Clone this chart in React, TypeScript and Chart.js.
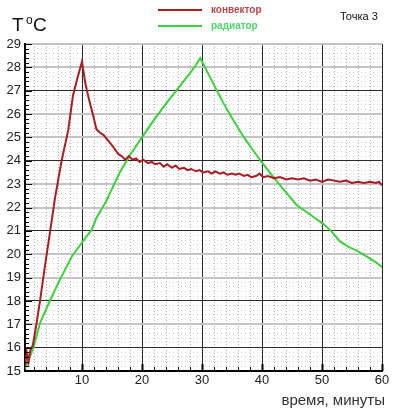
import React, { useEffect, useRef } from "react";
import { Chart, registerables } from "chart.js";
Chart.register(...registerables);

// ---- data ----
const convectorTime = [0.5, 0.8, 1.1, 1.4, 1.8, 2.4, 3.0, 3.8, 4.7, 5.5, 6.6, 7.7, 8.5, 9.2, 10.0, 10.5, 11.0, 11.9, 12.4, 13.0, 13.6, 14.4, 15.2, 16.0, 16.6, 17.2, 17.8, 18.4, 19.0, 19.6, 20.2, 21.0, 21.6, 22.2, 23.0, 23.6, 24.2, 25.0, 25.6, 26.2, 27.0, 27.6, 28.2, 29.0, 29.6, 30.2, 31.0, 31.6, 32.2, 33.0, 33.6, 34.2, 35.0, 35.6, 36.2, 37.0, 37.6, 38.2, 39.0, 39.6, 40.2, 41.0, 42.0, 43.0, 44.0, 45.0, 46.0, 47.0, 48.0, 49.0, 50.0, 51.0, 52.0, 53.0, 54.0, 55.0, 56.0, 57.0, 58.0, 59.0, 59.5, 60.0];
const convectorTemp = [15.2, 15.8, 15.4, 15.9, 16.1, 17.0, 18.0, 19.45, 21.0, 22.4, 24.0, 25.3, 26.8, 27.5, 28.25, 27.4, 26.8, 25.9, 25.35, 25.2, 25.1, 24.85, 24.6, 24.3, 24.2, 24.05, 24.2, 24.05, 24.1, 23.95, 24.05, 23.9, 23.95, 23.85, 23.9, 23.75, 23.85, 23.7, 23.8, 23.65, 23.7, 23.6, 23.65, 23.55, 23.6, 23.5, 23.55, 23.45, 23.55, 23.45, 23.5, 23.4, 23.45, 23.4, 23.45, 23.35, 23.4, 23.3, 23.35, 23.45, 23.3, 23.35, 23.25, 23.3, 23.2, 23.25, 23.2, 23.25, 23.15, 23.2, 23.1, 23.2, 23.15, 23.1, 23.15, 23.05, 23.1, 23.05, 23.1, 23.05, 23.1, 22.95];
const radiatorTime = [0.5, 1.0, 1.9, 3.0, 4.7, 6.3, 8.3, 10.0, 11.6, 12.4, 14.1, 14.7, 16.3, 18.0, 20.0, 22.0, 24.0, 26.0, 28.0, 29.0, 29.7, 30.5, 32.0, 33.5, 35.2, 37.0, 38.5, 39.9, 41.9, 44.0, 45.8, 48.0, 50.2, 51.5, 53.0, 54.5, 55.8, 57.5, 59.0, 60.0];
const radiatorTemp = [15.1, 15.4, 16.0, 17.05, 18.04, 18.9, 19.9, 20.5, 21.04, 21.55, 22.3, 22.65, 23.5, 24.25, 25.0, 25.75, 26.45, 27.1, 27.75, 28.1, 28.4, 28.0, 27.25, 26.5, 25.75, 25.0, 24.45, 23.96, 23.3, 22.65, 22.1, 21.7, 21.3, 21.0, 20.55, 20.3, 20.15, 19.9, 19.65, 19.45];
const seriesNames = ["конвектор", "радиатор"];
const seriesColors = ["#a81e22", "#3fcf3f"];
const labelColors = ["#b8454a", "#4fd86a"];
const xTickValues = [10, 20, 30, 40, 50, 60];
const yTickValues = [15, 16, 17, 18, 19, 20, 21, 22, 23, 24, 25, 26, 27, 28, 29];
const darkRows = [16, 18, 21, 24, 27];
const xMin = 0.5, xMax = 60, yMin = 15, yMax = 29;
const xTitle = "время, минуты";
const yTitle = "T";
const yUnit = "C";
const cornerNote = "Точка 3";

const FONT = "'Liberation Sans', Arial, sans-serif";

const minorX: number[] = [];
for (let i = 1; i <= 30; i++) minorX.push(i * 2);
const minorY: number[] = [];
for (let i = 0; i <= 70; i++) minorY.push(Math.round((yMin + i * 0.2) * 10) / 10);

const decor = {
  id: "decor",
  afterDraw(chart: any) {
    const { ctx, chartArea, scales } = chart;
    const { left, bottom } = chartArea;
    const x = scales.x, y = scales.y;
    ctx.save();
    ctx.strokeStyle = "#000";
    ctx.lineWidth = 1;
    minorY.forEach((v) => {
      const py = Math.round(y.getPixelForValue(v)) + 0.5;
      const major = Math.abs(v - Math.round(v)) < 1e-6;
      ctx.beginPath();
      ctx.moveTo(left, py);
      ctx.lineTo(left + (major ? 7 : 4), py);
      ctx.stroke();
    });
    minorX.forEach((v) => {
      const px = Math.round(x.getPixelForValue(v)) + 0.5;
      const major = v % 10 === 0;
      ctx.lineWidth = major ? 2 : 1;
      ctx.beginPath();
      ctx.moveTo(px, bottom);
      ctx.lineTo(px, bottom - (major ? 7 : 4));
      ctx.stroke();
    });
    ctx.fillStyle = "#111";
    ctx.textBaseline = "alphabetic";
    ctx.textAlign = "left";
    ctx.font = `19px ${FONT}`;
    ctx.fillText(yTitle, 12, 31);
    ctx.font = `12px ${FONT}`;
    ctx.fillText("o", 26, 24);
    ctx.font = `19px ${FONT}`;
    ctx.fillText(yUnit, 33, 31);
    const rows = [10, 26];
    seriesNames.forEach((name, i) => {
      ctx.strokeStyle = seriesColors[i];
      ctx.lineWidth = 2;
      ctx.beginPath();
      ctx.moveTo(158, rows[i]);
      ctx.lineTo(202, rows[i]);
      ctx.stroke();
      ctx.fillStyle = labelColors[i];
      ctx.font = `bold 10px ${FONT}`;
      ctx.textBaseline = "middle";
      ctx.fillText(name, 211, rows[i]);
    });
    ctx.fillStyle = "#111";
    ctx.font = `11px ${FONT}`;
    ctx.textBaseline = "middle";
    ctx.fillText(cornerNote, 340, 17);
    ctx.font = `15px ${FONT}`;
    ctx.fillStyle = "#333";
    ctx.textAlign = "right";
    ctx.textBaseline = "alphabetic";
    ctx.fillText(xTitle, 385, 405);
    ctx.restore();
  },
};

export default function App() {
  const ref = useRef<HTMLCanvasElement | null>(null);
  useEffect(() => {
    if (!ref.current) return;
    const chart = new Chart(ref.current, {
      type: "line",
      data: {
        datasets: [
          {
            label: seriesNames[0],
            data: convectorTime.map((t, i) => ({ x: t, y: convectorTemp[i] })),
            borderColor: seriesColors[0],
            borderWidth: 2,
            pointRadius: 0,
            tension: 0,
            fill: false,
          },
          {
            label: seriesNames[1],
            data: radiatorTime.map((t, i) => ({ x: t, y: radiatorTemp[i] })),
            borderColor: seriesColors[1],
            borderWidth: 2,
            pointRadius: 0,
            tension: 0,
            fill: false,
          },
        ],
      },
      options: {
        animation: false,
        responsive: false,
        devicePixelRatio: 1,
        layout: { padding: { top: 44, right: 11, left: 0, bottom: 0 } },
        plugins: { legend: { display: false }, tooltip: { enabled: false } },
        scales: {
          xMinor: {
            type: "linear",
            position: "bottom",
            min: xMin,
            max: xMax,
            afterBuildTicks: (s: any) => { s.ticks = minorX.map((v) => ({ value: v })); },
            afterFit: (s: any) => { s.height = 0; },
            ticks: { display: false },
            grid: { color: "#b0b0b0", lineWidth: 1, drawTicks: false, z: -2 },
            border: { display: false, dash: [1, 2] },
          },
          yMinor: {
            type: "linear",
            position: "left",
            min: yMin,
            max: yMax,
            afterBuildTicks: (s: any) => { s.ticks = minorY.map((v) => ({ value: v })); },
            afterFit: (s: any) => { s.width = 0; },
            ticks: { display: false },
            grid: { color: "#cfcfcf", lineWidth: 1, drawTicks: false, z: -2 },
            border: { display: false, dash: [1, 3] },
          },
          x: {
            type: "linear",
            position: "bottom",
            min: xMin,
            max: xMax,
            afterBuildTicks: (s: any) => { s.ticks = xTickValues.map((v) => ({ value: v })); },
            afterFit: (s: any) => { s.height = 39; },
            ticks: { color: "#222", font: { family: FONT, size: 13 }, padding: 2, maxRotation: 0 },
            grid: { color: "#2a2a2a", lineWidth: 1, drawTicks: false, z: -1 },
            border: { display: true, color: "#000", width: 2 },
          },
          y: {
            type: "linear",
            position: "left",
            min: yMin,
            max: yMax,
            afterBuildTicks: (s: any) => { s.ticks = yTickValues.map((v) => ({ value: v })); },
            afterFit: (s: any) => { s.width = 25; },
            ticks: { color: "#222", font: { family: FONT, size: 13 }, padding: 4 },
            grid: {
              color: (c: any) => (c.tick && darkRows.includes(c.tick.value) ? "#2a2a2a" : "#c4c4c4"),
              lineWidth: (c: any) => (c.tick && darkRows.includes(c.tick.value) ? 1 : 2),
              drawTicks: false,
              z: -1,
            },
            border: { display: true, color: "#000", width: 2 },
          },
        },
      } as any,
      plugins: [decor],
    });
    return () => chart.destroy();
  }, []);
  return (
    <div style={{ position: "fixed", left: 0, top: 0, width: 393, height: 410, background: "#fff" }}>
      <canvas ref={ref} width={393} height={410} style={{ display: "block" }} />
    </div>
  );
}
